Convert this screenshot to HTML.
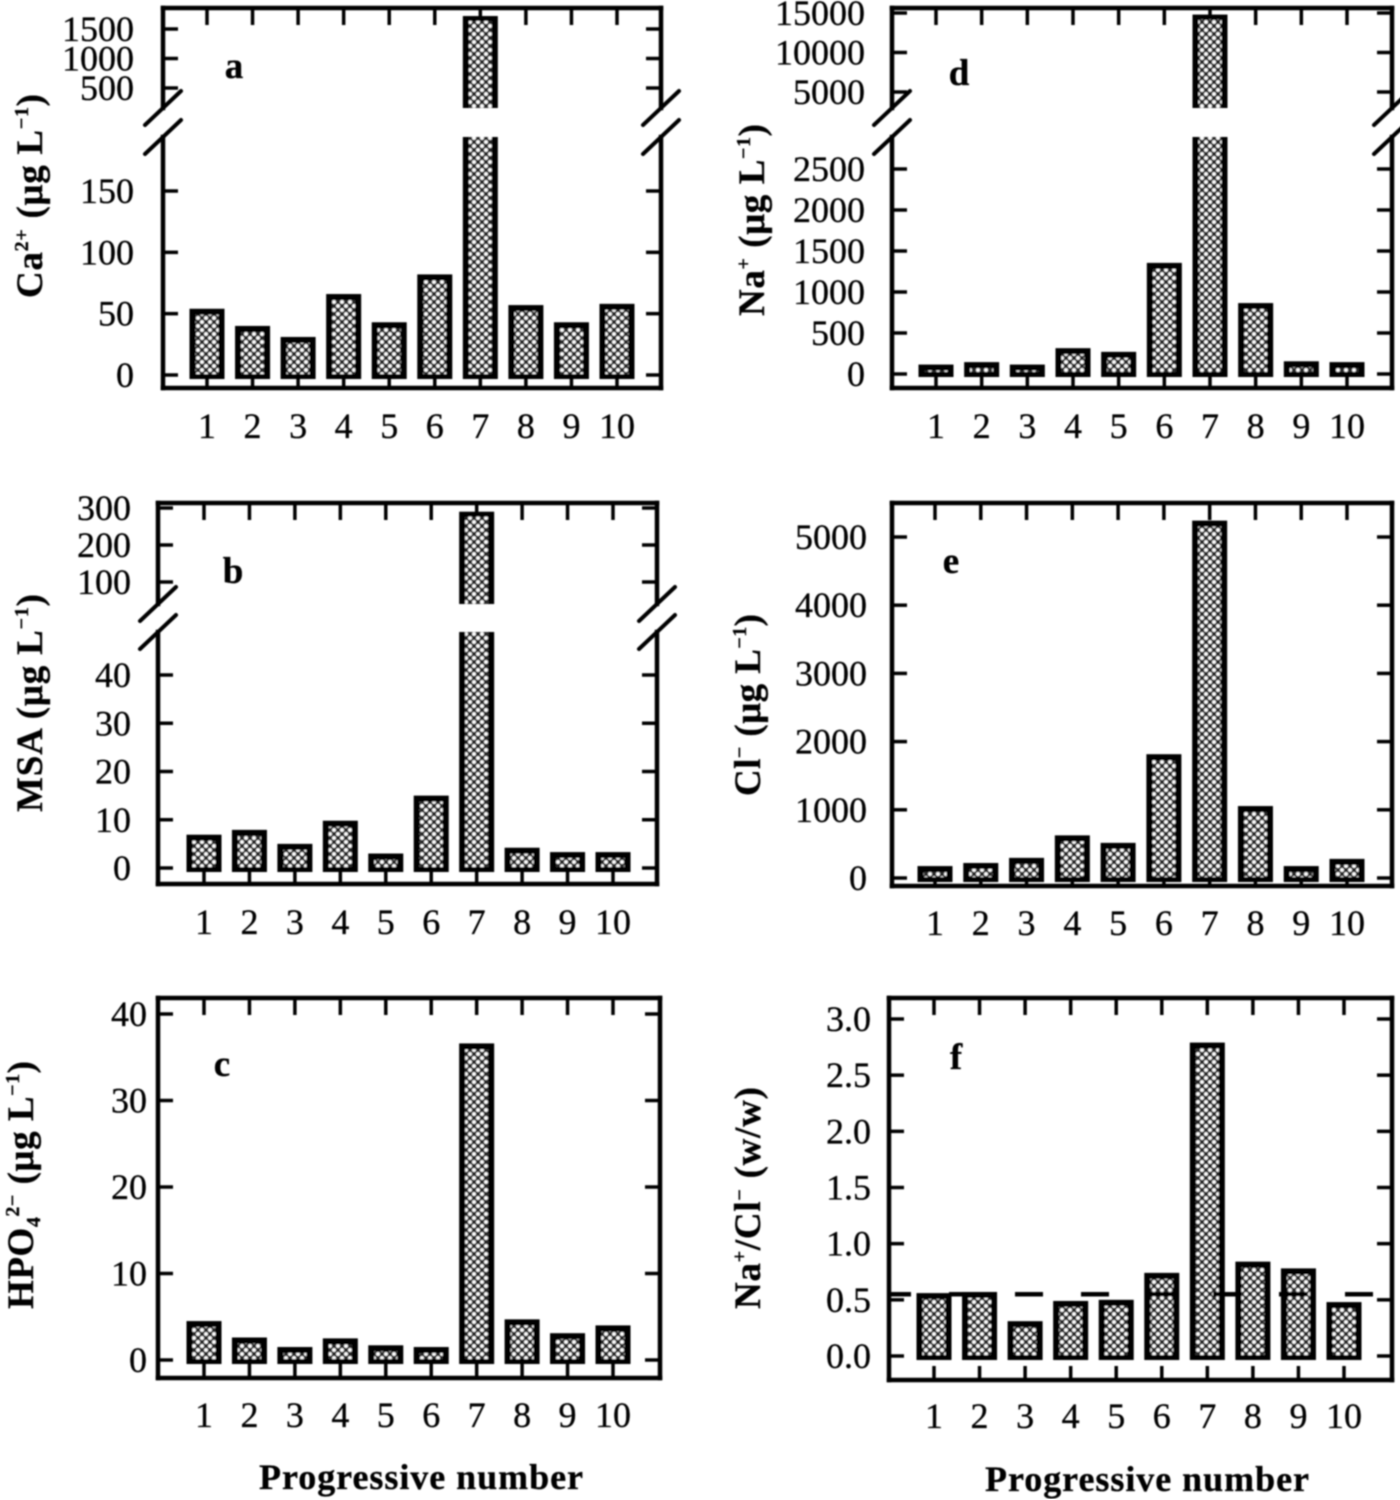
<!DOCTYPE html>
<html>
<head>
<meta charset="utf-8">
<title>Ion concentrations by progressive number</title>
<style>
html,body{margin:0;padding:0;background:#fff;}
svg{display:block;}
text{font-family:"Liberation Serif",serif;fill:#000;stroke:#000;stroke-width:0.3px;}
</style>
</head>
<body>
<svg id="figure" xmlns="http://www.w3.org/2000/svg" width="1400" height="1500" viewBox="0 0 1400 1500">
<defs>
<pattern id="stipple" width="8" height="8" patternUnits="userSpaceOnUse">
<rect width="8" height="8" fill="#2a2a2a"/>
<circle cx="2" cy="2" r="1.9" fill="#fff"/>
<circle cx="6" cy="6" r="1.9" fill="#fff"/>
</pattern>
<filter id="soft" x="0" y="0" width="100%" height="100%"><feGaussianBlur stdDeviation="0.7"/></filter>
</defs>
<g id="root" filter="url(#soft)">
<text x="421" y="1489" font-size="36" font-weight="bold" text-anchor="middle" textLength="324">Progressive number</text>
<text x="1147" y="1491" font-size="36" font-weight="bold" text-anchor="middle" textLength="324">Progressive number</text>
<text transform="translate(42,196) rotate(-90)" font-size="37" font-weight="bold" text-anchor="middle" textLength="204">Ca<tspan font-size="20" dy="-14">2+</tspan><tspan dy="14"> (μg L</tspan><tspan font-size="20" dy="-14">−1</tspan><tspan dy="14">)</tspan></text>
<text transform="translate(42,703) rotate(-90)" font-size="37" font-weight="bold" text-anchor="middle" textLength="218">MSA (μg L<tspan font-size="20" dy="-14">−1</tspan><tspan dy="14">)</tspan></text>
<text transform="translate(33,1185) rotate(-90)" font-size="37" font-weight="bold" text-anchor="middle" textLength="248">HPO<tspan font-size="20" dy="7">4</tspan><tspan font-size="20" dy="-21">2−</tspan><tspan dy="14"> (μg L</tspan><tspan font-size="20" dy="-14">−1</tspan><tspan dy="14">)</tspan></text>
<text transform="translate(764,220) rotate(-90)" font-size="37" font-weight="bold" text-anchor="middle" textLength="192">Na<tspan font-size="20" dy="-14">+</tspan><tspan dy="14"> (μg L</tspan><tspan font-size="20" dy="-14">−1</tspan><tspan dy="14">)</tspan></text>
<text transform="translate(760,705) rotate(-90)" font-size="37" font-weight="bold" text-anchor="middle" textLength="182">Cl<tspan font-size="20" dy="-14">−</tspan><tspan dy="14"> (μg L</tspan><tspan font-size="20" dy="-14">−1</tspan><tspan dy="14">)</tspan></text>
<text transform="translate(760,1198) rotate(-90)" font-size="37" font-weight="bold" text-anchor="middle" textLength="222">Na<tspan font-size="20" dy="-14">+</tspan><tspan dy="14">/Cl</tspan><tspan font-size="20" dy="-14">−</tspan><tspan dy="14"> (w/w)</tspan></text>
</g>
</svg>
<script>
var categories = ["1","2","3","4","5","6","7","8","9","10"];

var caValues = [54, 40, 31, 66, 43, 82, 1720, 57, 43, 58];
var msaValues = [6.9, 7.9, 5, 9.8, 3, 15, 290, 4.2, 3.3, 3.3];
var hpo4Values = [4.5, 2.6, 1.5, 2.5, 1.7, 1.5, 36.6, 4.7, 3.1, 4];
var naValues = [115, 145, 115, 315, 270, 1355, 14800, 865, 155, 145];
var clValues = [175, 220, 295, 625, 515, 1815, 5240, 1055, 175, 280];
var ratioValues = [0.56, 0.57, 0.31, 0.49, 0.5, 0.74, 2.79, 0.84, 0.78, 0.48];
var ratioReference = [0.55];

var caLowTicks = [0, 50, 100, 150];
var caHighTicks = [500, 1000, 1500];
var msaLowTicks = [0, 10, 20, 30, 40];
var msaHighTicks = [100, 200, 300];
var hpo4Ticks = [0, 10, 20, 30, 40];
var naLowTicks = [0, 500, 1000, 1500, 2000, 2500];
var naHighTicks = [5000, 10000, 15000];
var clTicks = [0, 1000, 2000, 3000, 4000, 5000];
var ratioTicks = ["0.0", "0.5", "1.0", "1.5", "2.0", "2.5", "3.0"];

var panels = [
  {id:"a", values:caValues, lowTicks:caLowTicks, highTicks:caHighTicks, left:163, right:661, top:8, bottom:388,
   x1:207, x10:617, barBase:379, low:[0,375,150,191], high:[500,88,1500,29], breakTop:108, breakBottom:137, lowMax:200,
   labelRight:134, xLabelY:438, letter:[234,78]},
  {id:"b", values:msaValues, lowTicks:msaLowTicks, highTicks:msaHighTicks, left:158, right:657, top:503, bottom:884,
   x1:204, x10:613, barBase:872, low:[0,868,40,675], high:[100,582,300,508], breakTop:604, breakBottom:632, lowMax:50,
   labelRight:131, xLabelY:934, letter:[233,583]},
  {id:"c", values:hpo4Values, lowTicks:hpo4Ticks, highTicks:[], left:158, right:660, top:998, bottom:1378,
   x1:204, x10:613, barBase:1364, low:[0,1360,40,1014], labelRight:147, xLabelY:1427, letter:[222,1076]},
  {id:"d", values:naValues, lowTicks:naLowTicks, highTicks:naHighTicks, left:892, right:1392, top:8, bottom:388,
   x1:936, x10:1347, barBase:377, low:[0,374,2500,169], high:[5000,92,15000,13], breakTop:108, breakBottom:137, lowMax:3000,
   labelRight:865, xLabelY:438, letter:[959,85]},
  {id:"e", values:clValues, lowTicks:clTicks, highTicks:[], left:892, right:1392, top:503, bottom:886,
   x1:935, x10:1347, barBase:882, low:[0,878,5000,537], labelRight:867, xLabelY:935, letter:[951,573]},
  {id:"f", values:ratioValues, lowTicks:ratioTicks, highTicks:[], left:889, right:1392, top:998, bottom:1380,
   x1:934, x10:1344, barBase:1360, low:[0,1356,3,1019], labelRight:871, xLabelY:1428, letter:[956,1069], reference:ratioReference}
];

var SVGNS = "http://www.w3.org/2000/svg";
var root = document.getElementById("root");

function linear(map, v){
  return map[1] + (v - map[0]) * (map[3] - map[1]) / (map[2] - map[0]);
}
function yScale(p, v){
  if (p.high && v > p.lowMax) { return linear(p.high, v); }
  return linear(p.low, v);
}
function xScale(p, i){
  return p.x1 + i * (p.x10 - p.x1) / (categories.length - 1);
}
function make(tag, attrs, parent){
  var el = document.createElementNS(SVGNS, tag);
  for (var k in attrs) { el.setAttribute(k, attrs[k]); }
  parent.appendChild(el);
  return el;
}
function drawBarRect(group, x, y0, y1, capTop, capBottom){
  var w = 35;
  var outer = make("rect", {x:x-w/2, y:y0, width:w, height:y1-y0, fill:"#000"}, group);
  
  
  var ih = (y1-y0) - capTop - capBottom;
  if (ih > 0) {
    var inner = make("rect", {x:x-w/2+6, y:y0+capTop, width:w-12, height:ih, fill:"url(#stipple)"}, group);
    
    
  }
}
function drawTicks(p, group, list){
  list.forEach(function(t){
    var v = parseFloat(t);
    var y = yScale(p, v);
    var tl = make("line", {x1:p.left, x2:p.left+15, y1:y, y2:y, stroke:"#000", "stroke-width":3.5}, group);
    
    
    var tr = make("line", {x1:p.right-15, x2:p.right, y1:y, y2:y, stroke:"#000", "stroke-width":3.5}, group);
    
    
    var lb = make("text", {x:p.labelRight, y:y+12, "font-size":36, "text-anchor":"end"}, group);
    lb.textContent = String(t);
    
    
  });
}
function drawFrame(p, group){
  var pts = [];
  if (p.high) {
    pts.push([p.left, p.breakBottom, p.left, p.bottom]);
    pts.push([p.left, p.bottom, p.right, p.bottom]);
    pts.push([p.right, p.bottom, p.right, p.breakBottom]);
    pts.push([p.right, p.breakTop, p.right, p.top]);
    pts.push([p.right, p.top, p.left, p.top]);
    pts.push([p.left, p.top, p.left, p.breakTop]);
    [p.left, p.right].forEach(function(cx){
      [p.breakTop, p.breakBottom].forEach(function(cy){
        var s = make("line", {x1:cx-18, y1:cy+17, x2:cx+18, y2:cy-17, stroke:"#000", "stroke-width":4, "stroke-linecap":"round"}, group);
        
        
      });
    });
  } else {
    pts.push([p.left, p.top, p.left, p.bottom]);
    pts.push([p.left, p.bottom, p.right, p.bottom]);
    pts.push([p.right, p.bottom, p.right, p.top]);
    pts.push([p.right, p.top, p.left, p.top]);
  }
  pts.forEach(function(q){
    var l = make("line", {x1:q[0], y1:q[1], x2:q[2], y2:q[3], stroke:"#000", "stroke-width":4.5, "stroke-linecap":"square"}, group);
    
    
  });
}
panels.forEach(function(p){
  var g = make("g", {}, root);
  
  

  categories.forEach(function(c, i){
    var x = xScale(p, i);
    var top = make("line", {x1:x, x2:x, y1:p.top, y2:p.top+17, stroke:"#000", "stroke-width":3.5}, g);
    
    
    var bot = make("line", {x1:x, x2:x, y1:p.bottom-14, y2:p.bottom, stroke:"#000", "stroke-width":3.5}, g);
    
    
    var lb = make("text", {x:x, y:p.xLabelY, "font-size":36, "text-anchor":"middle"}, g);
    lb.textContent = c;
    
    
  });

  drawTicks(p, g, p.lowTicks);
  drawTicks(p, g, p.highTicks);

  p.values.forEach(function(v, i){
    var x = xScale(p, i);
    var bg = make("g", {}, g);
    
    
    if (p.high && v > p.lowMax) {
      drawBarRect(bg, x, p.breakBottom, p.barBase, 0, 5);
      drawBarRect(bg, x, yScale(p, v), p.breakTop, 5, 0);
    } else {
      drawBarRect(bg, x, yScale(p, v), p.barBase, 6, 5);
    }
  });

  if (p.reference) {
    p.reference.forEach(function(r){
      var yr = yScale(p, r);
      var d = make("line", {x1:p.left, x2:p.right, y1:yr, y2:yr, stroke:"#000", "stroke-width":4.5, "stroke-dasharray":"28 38", "stroke-dashoffset":6}, g);
      
      
    });
  }

  drawFrame(p, g);

  var letter = make("text", {x:p.letter[0], y:p.letter[1], "font-size":37, "font-weight":"bold", "text-anchor":"middle"}, g);
  letter.textContent = p.id;
  
  
});
</script>
</body>
</html>
